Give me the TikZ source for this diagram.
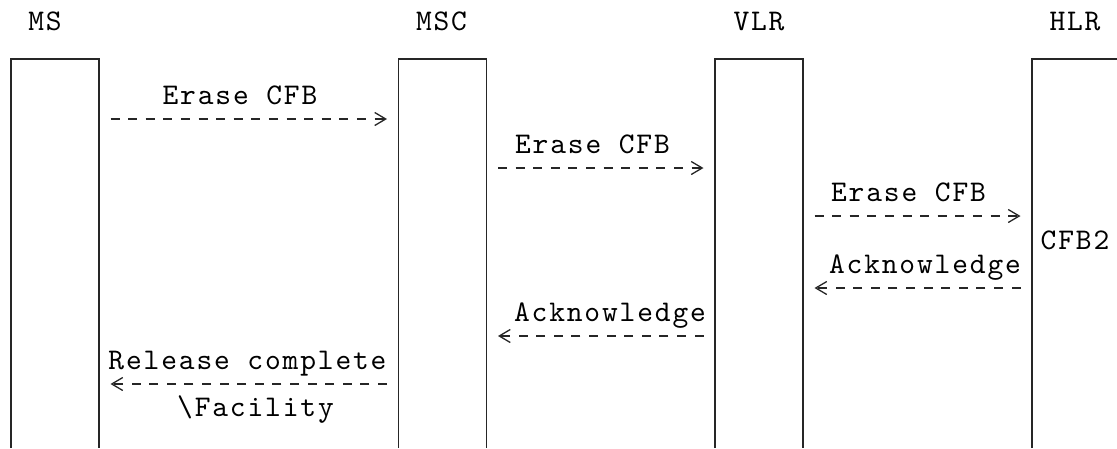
\documentclass[tikz,border=0pt]{standalone}
\usepackage{fontspec}
\newfontfamily\asciifont{lmmono10-regular.otf}[LetterSpace=6.2]
\usetikzlibrary{arrows.meta}
\tikzset{
	every path/.style={line width=1.3pt},
	life/.style={
		rectangle,
		inner sep=0pt,
		outer sep=0pt,
		minimum width=88pt,
		minimum height=389pt,
	},
	lbl/.style={
		anchor=base,
		inner sep=0pt,
		font=\asciifont\fontsize{30}{36}\selectfont,
	},
	lifeline/.style={
		draw=black!85,
	},
	msg/.style={
		draw=black!85,
		dash pattern=on 9pt off 8.6pt,
		shorten <=11.5pt,
		shorten >=11.5pt,
		-{Straight Barb[length=11pt,width=13pt,line width=1.3pt]}
	},
}

\begin{document}
\begin{tikzpicture}[x=1pt,y=-1pt]
		\useasboundingbox (0,0) rectangle (1117,448);

		\node[life] (ms)  at (55,253.5)   {};
		\node[life] (msc) at (442.5,253.5) {};
		\node[life] (vlr) at (759,253.5)  {};
		\node[life] (hlr) at (1076,253.5) {};

		\node[lbl] (msname)  at (45,30)    {MS};
		\node[lbl] (mscname) at (441.5,30) {MSC};
		\node[lbl] (vlrname) at (759,30)   {VLR};
		\node[lbl] (hlrname) at (1075,30)  {HLR};

		\draw[lifeline] (ms.south west) |- (ms.north east) -- (ms.south east);
		\draw[lifeline] (msc.south west) |- (msc.north east) -- (msc.south east);
		\draw[lifeline] (vlr.south west) |- (vlr.north east) -- (vlr.south east);
		\draw[lifeline] (hlr.south west) |- (hlr.north east) -- (hlr.south east);

%*********

		\node[lbl] (erase1) at (240,104)   {Erase CFB};
		\node[lbl] (erase2) at (592.5,153) {Erase CFB};
		\node[lbl] (erase3) at (908.5,201) {Erase CFB};

		\draw[msg] ([yshift=-15pt]ms.east |- erase1.base) -- ([yshift=-15pt]msc.west |- erase1.base);
		\draw[msg] ([yshift=-15pt]msc.east |- erase2.base) -- ([yshift=-15pt]vlr.west |- erase2.base);
		\draw[msg] ([yshift=-15pt]vlr.east |- erase3.base) -- ([yshift=-15pt]hlr.west |- erase3.base);

		\node[lbl] (cfb) at (1075,249) {CFB2};

%*********

		\node[lbl] (ack1) at (925,273)   {Acknowledge};
		\node[lbl] (ack2) at (610,321)   {Acknowledge};
		\node[lbl] (rel)  at (247.5,369) {Release complete};
		\node[lbl] (fac)  at (255.5,416) {\textbackslash Facility};

		\draw[msg] ([yshift=-15pt]hlr.west |- ack1.base) -- ([yshift=-15pt]vlr.east |- ack1.base);
		\draw[msg] ([yshift=-15pt]vlr.west |- ack2.base) -- ([yshift=-15pt]msc.east |- ack2.base);
		\draw[msg] ([yshift=-15pt]msc.west |- rel.base) -- ([yshift=-15pt]ms.east |- rel.base);

\end{tikzpicture}
\end{document}
